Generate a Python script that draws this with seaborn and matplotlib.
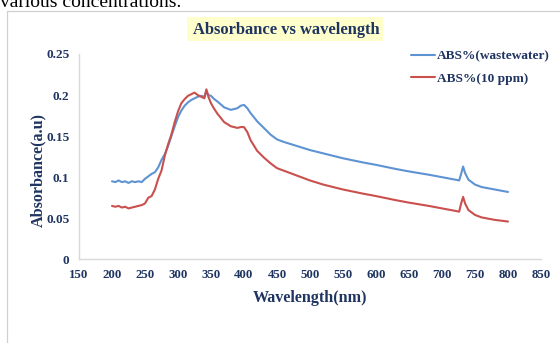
import matplotlib
matplotlib.use("Agg")
import matplotlib.pyplot as plt
import seaborn as sns
import pandas as pd
from matplotlib.lines import Line2D
from matplotlib.patches import Rectangle

wavelength = [200, 205, 210, 215, 220, 225, 230, 235, 240, 245, 250, 255, 260, 265, 270,
              275, 280, 285, 290, 295, 300, 305, 310, 315, 320, 325, 330, 335, 340, 343,
              346, 350, 355, 360, 370, 380, 390, 395, 400, 405, 410, 420, 430, 440, 450,
              460, 480, 500, 520, 550, 580, 600, 630, 650, 680, 700, 720, 726, 729, 732,
              735, 740, 750, 760, 780, 800]

abs_wastewater = [0.095, 0.094, 0.096, 0.094, 0.095, 0.093, 0.095, 0.094, 0.095, 0.094,
                  0.098, 0.101, 0.104, 0.106, 0.112, 0.121, 0.128, 0.138, 0.150, 0.162,
                  0.173, 0.181, 0.187, 0.191, 0.194, 0.196, 0.198, 0.199, 0.198, 0.205,
                  0.200, 0.199, 0.195, 0.192, 0.185, 0.182, 0.184, 0.187, 0.188, 0.184,
                  0.178, 0.168, 0.160, 0.152, 0.146, 0.143, 0.138, 0.133, 0.129, 0.123,
                  0.118, 0.115, 0.110, 0.107, 0.103, 0.100, 0.097, 0.096, 0.104, 0.113,
                  0.105, 0.097, 0.091, 0.088, 0.085, 0.082]

abs_10ppm = [0.065, 0.064, 0.065, 0.063, 0.064, 0.062, 0.063, 0.064, 0.065, 0.066,
             0.068, 0.075, 0.077, 0.085, 0.098, 0.108, 0.126, 0.140, 0.152, 0.167,
             0.180, 0.190, 0.195, 0.199, 0.201, 0.203, 0.200, 0.198, 0.196, 0.207,
             0.198, 0.190, 0.183, 0.177, 0.167, 0.162, 0.160, 0.161, 0.161, 0.155,
             0.145, 0.132, 0.124, 0.117, 0.111, 0.108, 0.102, 0.096, 0.091, 0.085,
             0.080, 0.077, 0.072, 0.069, 0.065, 0.062, 0.059, 0.058, 0.068, 0.076,
             0.068, 0.060, 0.054, 0.051, 0.048, 0.046]

series_names = ["ABS%(wastewater)", "ABS%(10 ppm)"]
colors = ["#5E93D3", "#C9504D"]
x_ticks = [150, 200, 250, 300, 350, 400, 450, 500, 550, 600, 650, 700, 750, 800, 850]
y_ticks = [0, 0.05, 0.1, 0.15, 0.2, 0.25]
y_tick_labels = ["0", "0.05", "0.1", "0.15", "0.2", "0.25"]

df = pd.DataFrame({
    "Wavelength": wavelength * 2,
    "Absorbance": abs_wastewater + abs_10ppm,
    "Series": [series_names[0]] * len(wavelength) + [series_names[1]] * len(wavelength),
})

sns.set_theme(style="white")
plt.rcParams["font.family"] = ["Liberation Serif", "DejaVu Serif"]
navy = "#1F3461"

fig = plt.figure(figsize=(5.6, 3.43), dpi=100)
W, H = 560, 343
ax = fig.add_axes([79 / W, 1 - 259.3 / H, (541 - 79) / W, (259.3 - 54) / H])

sns.lineplot(data=df, x="Wavelength", y="Absorbance", hue="Series",
             palette=dict(zip(series_names, colors)), linewidth=1.5, ax=ax,
             legend=False, estimator=None, sort=False)

ax.set_xlim(150, 850)
ax.set_ylim(0, 0.25)
ax.set_xticks(x_ticks)
ax.set_xticklabels([str(t) for t in x_ticks], fontweight="bold", color=navy, fontsize=9.3)
ax.set_yticks(y_ticks)
ax.set_yticklabels(y_tick_labels, fontweight="bold", color=navy, fontsize=9.5)
ax.tick_params(axis="x", length=0, pad=7)
ax.tick_params(axis="y", length=0, pad=7)
for s in ["top", "right"]:
    ax.spines[s].set_visible(False)
for s in ["left", "bottom"]:
    ax.spines[s].set_color("#D9D9D9")
    ax.spines[s].set_linewidth(1.0)
ax.set_xlabel("")
ax.set_ylabel("")

fig.text(310 / W, 1 - 298 / H, "Wavelength(nm)", ha="center", va="center",
         fontweight="bold", color=navy, fontsize=11.6)
fig.text(38 / W, 1 - 170 / H, "Absorbance(a.u)", ha="center", va="center",
         rotation=90, fontweight="bold", color=navy, fontsize=11.6)

# title with yellow box
fig.patches.append(Rectangle((187 / W, 1 - 41 / H), (383 - 187) / W, (41 - 17) / H,
                             transform=fig.transFigure, facecolor="#FFFFCC",
                             edgecolor="none", zorder=0))
fig.text(286 / W, 1 - 29.5 / H, "Absorbance vs wavelength", ha="center", va="center",
         fontweight="bold", color=navy, fontsize=11.9)

# legend
handles = [Line2D([0], [0], color=c, lw=1.5) for c in colors]
leg = fig.legend(handles, series_names, loc="upper left",
                 bbox_to_anchor=(406 / W, 1 - 45 / H), frameon=False,
                 prop={"weight": "bold", "size": 9.6}, handlelength=1.75,
                 handletextpad=0.15, labelspacing=0.75, borderaxespad=0)
for t in leg.get_texts():
    t.set_color(navy)

# surrounding frame and cut-off caption of the page
fig.add_artist(Line2D([7 / W, 7 / W], [0, 1 - 11 / H], transform=fig.transFigure,
                      color="#D0D0D0", lw=0.9))
fig.add_artist(Line2D([7 / W, 1], [1 - 11 / H, 1 - 11 / H], transform=fig.transFigure,
                      color="#D0D0D0", lw=0.9))
fig.text(0 / W, 1 - 7 / H, "various concentrations.", ha="left", va="baseline",
         color="black", fontsize=14)

fig.savefig("out.png", dpi=100, facecolor="white")
